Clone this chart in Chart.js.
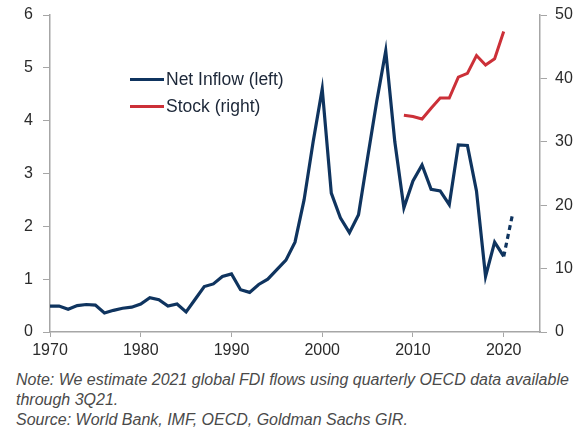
<!DOCTYPE html>
<html>
<head>
<meta charset="utf-8">
<script src="https://cdn.jsdelivr.net/npm/chart.js@4.4.1/dist/chart.umd.min.js"></script>
<style>
  body { margin: 0; background: #fff; font-family: "Liberation Sans", Arial, sans-serif; }
  #wrap { position: relative; width: 582px; height: 432px; }
  #box { position: absolute; left: 0; top: 0; width: 582px; height: 364px; }
  .leg { position: absolute; left: 130px; font-size: 17.5px; color: #1c2738; line-height: 20px; }
  .leg span { display: inline-block; width: 34px; height: 3px; vertical-align: middle; margin-right: 2px; position: relative; top: -1px; }
  #note { position: absolute; left: 16px; top: 370px; font-size: 16px; font-style: italic; color: #4a4a4a; line-height: 20px; }
</style>
</head>
<body>
<div id="wrap">
  <div id="box"><canvas id="myChart"></canvas></div>
  <div class="leg" style="top:69px"><span style="background:#0f345f"></span>Net Inflow (left)</div>
  <div class="leg" style="top:96px"><span style="background:#cc3038"></span>Stock (right)</div>
  <div id="note">Note: We estimate 2021 global FDI flows using quarterly OECD data available<br>through 3Q21.<br>Source: World Bank, IMF, OECD, Goldman Sachs GIR.</div>
</div>
<script>
// FDI net inflow, % of GDP (left axis), 2021 is an estimate
const inflowYears = [1970, 1971, 1972, 1973, 1974, 1975, 1976, 1977, 1978, 1979,
  1980, 1981, 1982, 1983, 1984, 1985, 1986, 1987, 1988, 1989,
  1990, 1991, 1992, 1993, 1994, 1995, 1996, 1997, 1998, 1999,
  2000, 2001, 2002, 2003, 2004, 2005, 2006, 2007, 2008, 2009,
  2010, 2011, 2012, 2013, 2014, 2015, 2016, 2017, 2018, 2019,
  2020, 2021];
const inflowValues = [0.49, 0.49, 0.43, 0.5, 0.52, 0.51, 0.36, 0.41, 0.45, 0.47,
  0.53, 0.65, 0.61, 0.49, 0.53, 0.38, 0.62, 0.86, 0.91, 1.05,
  1.1, 0.8, 0.75, 0.9, 1.0, 1.18, 1.36, 1.7, 2.5, 3.6,
  4.6, 2.63, 2.16, 1.88, 2.22, 3.3, 4.36, 5.32, 3.6, 2.35,
  2.86, 3.16, 2.7, 2.67, 2.41, 3.54, 3.53, 2.67, 1.05, 1.7,
  1.43, 2.25];

// FDI stock, % of GDP (right axis)
const stockYears = [2009, 2010, 2011, 2012, 2013, 2014, 2015, 2016, 2017, 2018, 2019, 2020];
const stockValues = [34.2, 34.0, 33.6, 35.3, 36.9, 36.9, 40.2, 40.8, 43.6, 42.1, 43.1, 47.4];

const xTicks = [1970, 1980, 1990, 2000, 2010, 2020];
const leftTicks = [0, 1, 2, 3, 4, 5, 6];
const rightTicks = [0, 10, 20, 30, 40, 50];

const estimateFrom = 2021;
const axisColor = '#a6a6a6';
const tickFont = { family: '"Liberation Sans", Arial, sans-serif', size: 16 };

function pairs(xs, ys) {
  return xs.map((x, i) => ({ x: x, y: ys[i] }));
}

function fitY(width) {
  return axis => {
    axis.width = width;
    axis.paddingTop = 0;
    axis.paddingBottom = 0;
  };
}

new Chart(document.getElementById('myChart'), {
  type: 'line',
  data: {
    datasets: [
      {
        label: 'Net Inflow (left)',
        data: pairs(inflowYears, inflowValues),
        yAxisID: 'y',
        borderColor: '#0f345f',
        borderWidth: 3.2,
        pointRadius: 0,
        tension: 0,
        segment: {
          borderDash: ctx => inflowYears[ctx.p1DataIndex] >= estimateFrom ? [5, 4] : undefined
        }
      },
      {
        label: 'Stock (right)',
        data: pairs(stockYears, stockValues),
        yAxisID: 'y1',
        borderColor: '#cc3038',
        borderWidth: 3,
        pointRadius: 0,
        tension: 0
      }
    ]
  },
  options: {
    responsive: true,
    maintainAspectRatio: false,
    animation: false,
    layout: { padding: { top: 15, bottom: 0, left: 0, right: 0 } },
    plugins: { legend: { display: false }, tooltip: { enabled: false } },
    scales: {
      x: {
        type: 'linear',
        min: 1970,
        max: 2024,
        afterBuildTicks: axis => { axis.ticks = xTicks.map(v => ({ value: v })); },
        afterFit: axis => { axis.height = 32; },
        grid: { drawOnChartArea: false, color: axisColor, tickLength: 5 },
        border: { color: axisColor, width: 1.5 },
        ticks: { color: '#2b2b2b', font: tickFont, padding: 4, maxRotation: 0, callback: v => String(v) }
      },
      y: {
        position: 'left',
        min: 0,
        max: 6,
        afterBuildTicks: axis => { axis.ticks = leftTicks.map(v => ({ value: v })); },
        afterFit: fitY(50),
        grid: { drawOnChartArea: false, color: axisColor, tickLength: 7 },
        border: { color: axisColor, width: 1.5 },
        ticks: { color: '#2b2b2b', font: tickFont, padding: 10 }
      },
      y1: {
        position: 'right',
        min: 0,
        max: 50,
        afterBuildTicks: axis => { axis.ticks = rightTicks.map(v => ({ value: v })); },
        afterFit: fitY(42),
        grid: { drawOnChartArea: false, color: axisColor, tickLength: 7 },
        border: { color: axisColor, width: 1.5 },
        ticks: { color: '#2b2b2b', font: tickFont, padding: 8 }
      }
    }
  }
});
</script>
</body>
</html>
